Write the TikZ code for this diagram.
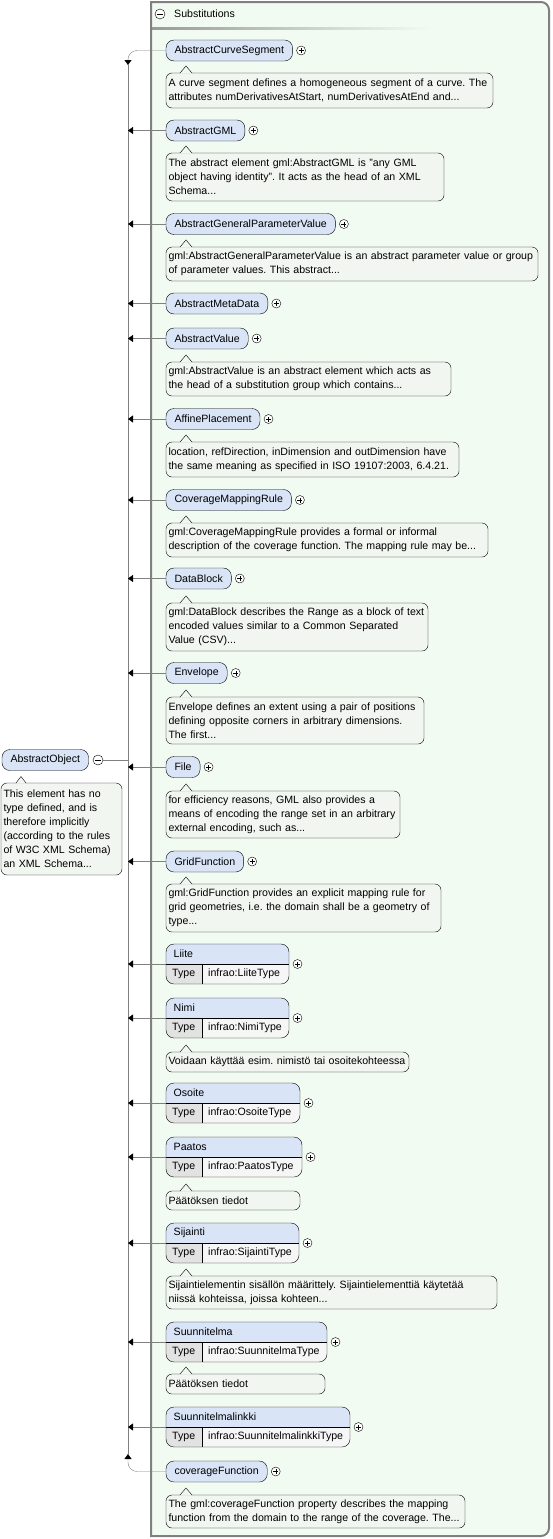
\documentclass[tikz,border=0pt]{standalone}
\usepackage{fontspec}
\setmainfont{Liberation Sans}
\usetikzlibrary{arrows.meta}
\frenchspacing

\definecolor{elemfill}{RGB}{217,228,247}
\definecolor{descfill}{RGB}{242,246,240}
\definecolor{framefill}{RGB}{242,251,242}
\definecolor{linegray}{RGB}{128,128,128}
\definecolor{typefill}{RGB}{226,226,226}
\definecolor{valuefill}{RGB}{246,246,246}

\tikzset{
  elem/.style={draw, fill=elemfill, rounded corners=8pt, minimum height=21pt, inner xsep=8.5pt, inner ysep=0pt, outer sep=0pt, anchor=west},
  desc/.style={draw, fill=descfill, rounded corners=6pt, anchor=north west, align=left, inner xsep=2.5pt, inner ysep=0pt, outer sep=0pt},
  typed/.style={minimum height=40pt, inner sep=0pt, outer sep=0pt, anchor=north west},
  plus/.style={draw, circle, fill=white, minimum size=9pt, inner sep=0pt,
    path picture={\draw (path picture bounding box.center) +(-2.5pt,0pt) -- +(2.5pt,0pt) +(0pt,-2.5pt) -- +(0pt,2.5pt);}},
  minus/.style={draw, circle, fill=white, minimum size=10pt, inner sep=0pt,
    path picture={\draw (path picture bounding box.center) +(-3pt,0pt) -- +(3pt,0pt);}},
  conn/.style={draw=linegray, -{Triangle[length=5pt,width=7pt,color=black]}},
}

\begin{document}
\begin{tikzpicture}[x=1pt, y=-1pt, font=\fontsize{10.6}{14}\selectfont]
  \useasboundingbox (0,0) rectangle (553,1539);

  % substitutions frame
  \draw[linegray, line width=2pt, fill=framefill] (151,1536) -- (151,2) -- (541,2)
    arc[start angle=-90, end angle=0, radius=8] -- (549,1528)
    arc[start angle=0, end angle=90, radius=8] -- cycle;
  \shade[left color=linegray!80, right color=framefill] (152,27) rectangle (430,29);
  \node[minus] (subsminus) at (160,14) {};
  \node[anchor=west, inner sep=0pt] (subs) at (174,14) {Substitutions};

  % root element
  \node[elem] (ao) at (2,760) {AbstractObject};
  \node[minus] (aominus) at (98,760) {};
  \node[desc, text width=116pt, minimum height=92pt] (aod) at (1,783) {This element has no\\type defined, and is\\therefore implicitly\\(according to the rules\\of W3C XML Schema)\\an XML Schema...};

  % substitution group members
  \node[elem] (acs) at (166,50.5) {AbstractCurveSegment};
  \node[desc, text width=322pt, minimum height=35pt] (acsd) at (166,73) {A curve segment defines a homogeneous segment of a curve. The\\attributes numDerivativesAtStart, numDerivativesAtEnd and...};
  \node[elem] (agml) at (166,130.5) {AbstractGML};
  \node[desc, text width=273pt, minimum height=48pt] (agmld) at (166,153) {The abstract element gml:AbstractGML is "any GML\\object having identity". It acts as the head of an XML\\Schema...};
  \node[elem] (agpv) at (166,224) {AbstractGeneralParameterValue};
  \node[desc, text width=367pt, minimum height=34pt] (agpvd) at (166,247) {gml:AbstractGeneralParameterValue is an abstract parameter value or group\\of parameter values. This abstract...};
  \node[elem] (amd) at (166,303.5) {AbstractMetaData};
  \node[elem] (av) at (166,338.5) {AbstractValue};
  \node[desc, text width=280pt, minimum height=34pt] (avd) at (166,362) {gml:AbstractValue is an abstract element which acts as\\the head of a substitution group which contains...};
  \node[elem] (ap) at (166,419) {AffinePlacement};
  \node[desc, text width=288pt, minimum height=35pt] (apd) at (166,442) {location, refDirection, inDimension and outDimension have\\the same meaning as specified in ISO 19107:2003, 6.4.21.};
  \node[elem] (cmr) at (166,500) {CoverageMappingRule};
  \node[desc, text width=317pt, minimum height=34pt] (cmrd) at (166,523) {gml:CoverageMappingRule provides a formal or informal\\description of the coverage function. The mapping rule may be...};
  \node[elem] (db) at (166,578.5) {DataBlock};
  \node[desc, text width=257pt, minimum height=48pt] (dbd) at (166,603) {gml:DataBlock describes the Range as a block of text\\encoded values similar to a Common Separated\\Value (CSV)...};
  \node[elem] (env) at (166,673) {Envelope};
  \node[desc, text width=253pt, minimum height=47pt] (envd) at (166,697) {Envelope defines an extent using a pair of positions\\defining opposite corners in arbitrary dimensions.\\The first...};
  \node[elem] (file) at (166,767) {File};
  \node[desc, text width=229pt, minimum height=47pt] (filed) at (166,791) {for efficiency reasons, GML also provides a\\means of encoding the range set in an arbitrary\\external encoding, such as...};
  \node[elem] (gf) at (166,861.5) {GridFunction};
  \node[desc, text width=270pt, minimum height=48pt] (gfd) at (166,884) {gml:GridFunction provides an explicit mapping rule for\\grid geometries, i.e. the domain shall be a geometry of\\type...};

  % typed members
  \foreach \nm/\ty/\bw/\lbl/\typ in {liite/944/123/Liite/LiiteType, nimi/998/123/Nimi/NimiType,
      osoite/1083/134/Osoite/OsoiteType, paatos/1137/136/Paatos/PaatosType,
      sijainti/1223/133/Sijainti/SijaintiType, suunnitelma/1322/161/Suunnitelma/SuunnitelmaType,
      linkki/1407/184/Suunnitelmalinkki/SuunnitelmalinkkiType} {
    \node[typed, minimum width=\bw pt] (\nm) at (166,\ty) {};
    \begin{scope}
      \clip[rounded corners=8pt] (\nm.north west) rectangle (\nm.south east);
      \fill[valuefill] (\nm.north west) rectangle (\nm.south east);
      \fill[elemfill] (\nm.north west) rectangle (\nm.east);
      \fill[typefill] (\nm.west) rectangle ([xshift=36pt]\nm.south west);
    \end{scope}
    \draw[rounded corners=8pt] (\nm.north west) rectangle (\nm.south east);
    \draw (\nm.west) -- (\nm.east) ([xshift=36pt]\nm.west) -- ([xshift=36pt]\nm.south west);
    \node[anchor=west, inner sep=0pt] at ([xshift=7.5pt,yshift=10pt]\nm.west) {\lbl};
    \node[anchor=west, inner sep=0pt] at ([xshift=6pt,yshift=-10pt]\nm.west) {Type};
    \node[anchor=west, inner sep=0pt] at ([xshift=42pt,yshift=-10pt]\nm.west) {infrao:\typ};
  }
  \node[desc, text width=238pt, minimum height=20pt] (nimid) at (166,1052) {Voidaan käyttää esim. nimistö tai osoitekohteessa};
  \node[desc, text width=129pt, minimum height=19pt] (paatosd) at (166,1191) {Päätöksen tiedot};
  \node[desc, text width=326pt, minimum height=33pt] (sijaintid) at (166,1276) {Sijaintielementin sisällön määrittely. Sijaintielementtiä käytetää\\niissä kohteissa, joissa kohteen...};
  \node[desc, text width=154pt, minimum height=20pt] (suunnitelmad) at (166,1374) {Päätöksen tiedot};

  \node[elem] (cf) at (166,1471.5) {coverageFunction};
  \node[desc, text width=294pt, minimum height=33pt] (cfd) at (166,1495) {The gml:coverageFunction property describes the mapping\\function from the domain to the range of the coverage. The...};

  % description tails
  \foreach \d in {aod} {
    \fill[descfill] ([xshift=15pt,yshift=-0.7pt]\d.north west) -- ++(5pt,7.2pt) -- ++(5pt,-7.2pt) -- cycle;
    \draw ([xshift=15pt]\d.north west) -- ++(5pt,6.5pt) -- ++(5pt,-6.5pt);
  }
  \foreach \d in {acsd, agmld, agpvd, avd, apd, cmrd, dbd, envd, filed, gfd, nimid, paatosd, sijaintid, suunnitelmad, cfd} {
    \fill[descfill] ([xshift=14pt,yshift=-0.7pt]\d.north west) -- ++(6pt,7.7pt) -- ++(6pt,-7.7pt) -- cycle;
    \draw ([xshift=14pt]\d.north west) -- ++(6pt,7pt) -- ++(6pt,-7pt);
  }

  % expand buttons
  \foreach \e in {acs, agml, agpv, amd, av, ap, cmr, db, env, file, gf, liite, nimi, osoite, paatos, sijainti, suunnitelma, linkki, cf}
    \node[plus] at ([xshift=8.5pt]\e.east) {};

  % connectors
  \coordinate (bustop) at (128,65);
  \coordinate (busbot) at (128,1454);
  \draw[linegray] (bustop) -- (busbot);
  \draw[linegray] (aominus.east) -- (aominus.east -| bustop);
  \draw[conn, rounded corners=9pt] (acs.west) -| (bustop);
  \draw[conn, rounded corners=9pt] (cf.west) -| (busbot);
  \foreach \e in {agml, agpv, amd, av, ap, cmr, db, env, file, gf, liite, nimi, osoite, paatos, sijainti, suunnitelma, linkki}
    \draw[conn] (\e.west) -- (\e.west -| bustop);
\end{tikzpicture}
\end{document}
